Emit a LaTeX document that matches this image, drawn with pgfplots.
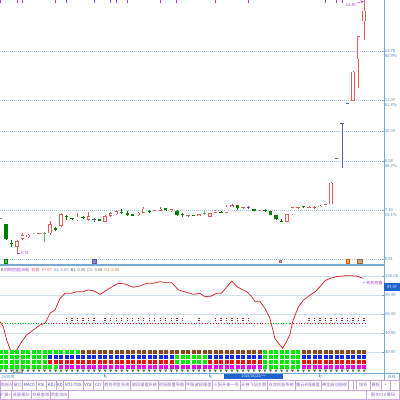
\documentclass[border=0pt]{standalone}
\usepackage{fontspec}
\setmainfont{Noto Sans CJK SC}
\usepackage{pgfplots}
\usepackage{pgfplotstable}
\pgfplotsset{compat=1.18}

\definecolor{cred}{RGB}{226,92,92}
\definecolor{cgreen}{RGB}{0,128,0}
\definecolor{clgreen}{RGB}{100,180,100}
\definecolor{cblue}{RGB}{90,90,175}
\definecolor{gridb}{RGB}{165,198,225}
\definecolor{gridlt}{RGB}{205,225,240}
\definecolor{axb}{RGB}{120,170,210}
\definecolor{lblb}{RGB}{80,140,195}
\definecolor{purp}{RGB}{170,60,220}
\definecolor{sqgreen}{RGB}{0,235,0}
\definecolor{sqbrown}{RGB}{140,70,30}
\definecolor{sqblue}{RGB}{20,40,230}
\definecolor{sqred}{RGB}{230,20,20}
\definecolor{sqmag}{RGB}{240,0,240}
\definecolor{dkred}{RGB}{150,40,40}
\definecolor{linered}{RGB}{210,40,40}
\definecolor{tabp}{RGB}{205,165,225}
\definecolor{tabt}{RGB}{140,100,200}
\definecolor{tabd}{RGB}{70,70,190}
\definecolor{boxblue}{RGB}{30,100,205}
\definecolor{tmark}{RGB}{70,110,70}

\newcommand{\tf}{\fontsize{4.2}{5.4}\selectfont}
\newcommand{\smf}{\fontsize{4}{4.6}\selectfont}

% ---- candles: i, body low, body high, low, high ----
\pgfplotstableread{
i bl bh l h
-1 7.12 7.18 7.12 7.18
2 6.22 6.41 6.01 6.45
3 6.49 6.60 6.45 6.69
4 6.54 6.62 6.52 6.64
5 6.61 6.66 6.60 6.67
6 6.64 6.68 6.63 6.69
8 6.67 6.98 6.61 7.09
10 6.93 7.32 6.89 7.36
13 7.11 7.23 7.08 7.36
15 7.13 7.25 7.09 7.40
18 7.06 7.25 7.04 7.27
19 7.25 7.34 7.23 7.40
20 7.31 7.41 7.28 7.45
24 7.27 7.36 7.26 7.38
25 7.36 7.50 7.34 7.56
27 7.41 7.45 7.40 7.46
28 7.43 7.50 7.41 7.54
30 7.41 7.48 7.40 7.49
33 7.265 7.285 7.21 7.285
35 7.25 7.32 7.24 7.33
37 7.23 7.34 7.22 7.35
38 7.36 7.43 7.35 7.44
40 7.36 7.56 7.35 7.61
41 7.56 7.62 7.54 7.64
43 7.51 7.54 7.50 7.55
46 7.43 7.49 7.42 7.50
51 7.06 7.32 7.05 7.33
52 7.31 7.54 7.30 7.55
53 7.51 7.54 7.50 7.56
55 7.54 7.56 7.53 7.57
56 7.53 7.56 7.49 7.57
57 7.55 7.60 7.54 7.61
58 7.58 7.64 7.57 7.65
59 7.65 8.37 7.64 8.38
63 11.11 12.09 11.10 12.10
64 12.50 13.28 11.55 13.28
65 13.78 14.13 13.15 14.49
}\up
\pgfplotstableread{
i bl bh l h
0 6.47 6.97 6.45 6.99
1 6.30 6.35 6.21 6.45
9 6.77 6.86 6.76 6.89
12 7.14 7.19 7.13 7.20
14 7.17 7.23 7.16 7.25
17 7.08 7.14 7.07 7.15
22 7.28 7.36 7.25 7.43
23 7.25 7.31 7.24 7.32
29 7.44 7.52 7.43 7.53
31 7.27 7.43 7.26 7.44
34 7.25 7.28 7.24 7.29
42 7.51 7.61 7.45 7.63
45 7.42 7.49 7.41 7.50
48 7.28 7.42 7.27 7.43
49 7.14 7.28 7.13 7.29
54 7.54 7.59 7.53 7.60
}\down
% doji: i, price, low, high
\pgfplotstableread{
i p l h
11 7.23 7.12 7.28
21 7.39 7.32 7.50
26 7.41 7.36 7.45
32 7.31 7.23 7.34
39 7.39 7.35 7.42
47 7.43 7.39 7.49
50 7.09 7.04 7.14
}\dojig
\pgfplotstableread{
i p l h
7 6.68 6.39 6.72
36 7.34 7.28 7.43
}\dojil
\pgfplotstableread{
i p l h
16 7.14 7.06 7.18
44 7.53 7.48 7.60
60 9.19 9.17 9.21
61 10.36 8.86 10.36
62 11.03 11.03 11.03
}\dojib

\pgfplotstableread{
i r1 r2 r3 r4
-1 g g g g
0 g g g g
1 g g g g
2 g g g g
3 g g g g
4 g g g g
5 g g g g
6 g g g g
7 g g g g
8 g b r g
9 g b r g
10 g b r m
11 g b r m
12 g b r m
13 g b r m
14 n b r m
15 n b r m
16 n b r m
17 n b r m
18 n b r m
19 n b r m
20 n b r m
21 n b r m
22 n b r m
23 n b r m
24 n b r m
25 n b r m
26 n b r m
27 n b r m
28 n b r m
29 n b r m
30 n b r m
31 n g g m
32 n g g m
33 n g g m
34 n g g m
35 n g g m
36 n g g m
37 n b r m
38 n b r m
39 n b r m
40 n b r m
41 n b r m
42 n b r m
43 n b r m
44 n b r m
45 n b r m
46 n b r m
47 g g g g
48 g g g g
49 g g g g
50 g g g g
51 g g g g
52 g g g g
53 g g g g
54 n b r m
55 n b r m
56 n b r m
57 n b r m
58 n b r m
59 n b r m
60 n b r m
61 n b r m
62 n b r m
63 n b r m
64 n b r m
65 n b r m
}\sq

\pgfplotsset{
  wick/.style={draw=none, mark=none, error bars/.cd, y dir=plus, y explicit, error mark=none,
     error bar style={#1, line width=0.55pt, solid}},
  body/.style 2 args={draw=none, mark=none, error bars/.cd, y dir=plus, y explicit, error mark=none,
     error bar style={#1, line width=#2, solid}},
}

\begin{document}
\begin{tikzpicture}[x=1pt,y=1pt]
\useasboundingbox (0,0) rectangle (400,400);
\clip (0,0) rectangle (400,400);
\fill[white] (0,0) rectangle (400,400);

% ---------------- price panel ----------------
\begin{axis}[at={(0pt,135pt)}, anchor=south west, width=384pt, height=265pt, scale only axis,
  xmin=-1.089, xmax=68.6, ymin=5.609, ymax=14.489,
  axis x line=none, axis y line*=right,
  y axis line style={axb, line width=0.6pt},
  ytick={5.81,7.452,9.094,10.099,11.138,12.78},
  yticklabels={5.81,{7.30\\19.1\%},{8.58\\38.2\%},10.03,{11.07\\61.8\%},{12.78\\80.9\%}},
  yticklabel style={font=\tf, text=lblb, align=left, anchor=north west, yshift=2.6pt, inner sep=0.6pt},
  ymajorgrids, major grid style={gridb, dash pattern=on 1pt off 1pt, line width=0.5pt},
  major tick length=2pt, tick style={axb},
]
% wicks
\addplot[wick=cred] table[x=i, y=l, y error plus expr=\thisrow{h}-\thisrow{l}] {\up};
\addplot[wick=cgreen] table[x=i, y=l, y error plus expr=\thisrow{h}-\thisrow{l}] {\down};
\addplot[wick=cgreen] table[x=i, y=l, y error plus expr=\thisrow{h}-\thisrow{l}] {\dojig};
\addplot[wick=clgreen] table[x=i, y=l, y error plus expr=\thisrow{h}-\thisrow{l}] {\dojil};
\addplot[wick=cblue] table[x=i, y=l, y error plus expr=\thisrow{h}-\thisrow{l}] {\dojib};
% bodies
\addplot[body={cred}{3.4pt}] table[x=i, y=bl, y error plus expr=\thisrow{bh}-\thisrow{bl}] {\up};
\addplot[body={white}{2.3pt}] table[x=i, y expr=\thisrow{bl}+0.019, y error plus expr={max(\thisrow{bh}-\thisrow{bl}-0.038,0)}] {\up};
\addplot[body={cgreen}{3.4pt}] table[x=i, y=bl, y error plus expr=\thisrow{bh}-\thisrow{bl}] {\down};
\addplot[only marks, mark=-, mark size=1.75pt, cgreen, mark options={line width=0.6pt}] table[x=i, y=p] {\dojig};
\addplot[only marks, mark=-, mark size=1.75pt, clgreen, mark options={line width=0.6pt}] table[x=i, y=p] {\dojil};
\addplot[only marks, mark=-, mark size=1.75pt, cblue, mark options={line width=0.6pt}] table[x=i, y=p] {\dojib};
% purple markers along the top
\addplot[only marks, mark=|, mark size=1.4pt, purp, mark options={line width=0.7pt}] coordinates {
 (-1,14.44) (2,14.44) (3,14.44) (9,14.44) (11,14.44) (16,14.44) (19,14.44) (20,14.44)
 (22,14.44) (28,14.44) (31,14.44) (38,14.44) (44,14.44) (58,14.44) (60,14.44) (61,14.44)};
% event icons at the bottom of the price panel
\addplot[only marks, mark=square*, mark size=1.8pt, draw=cgreen, fill=clgreen] coordinates {(-0.05,5.74)};
\addplot[only marks, mark=square*, mark size=1.8pt, draw=cblue, fill=cblue!70] coordinates {(16,5.74)};
\addplot[only marks, mark=square*, mark size=1.2pt, draw=cred, fill=cred!60] coordinates {(49.8,5.74)};
\addplot[only marks, mark=square*, mark size=1.8pt, draw=orange!80!black, fill=orange!70] coordinates {(62,5.74)};
\addplot[only marks, mark=square*, mark size=2.2pt, draw=brown!80!black, fill=brown!70] coordinates {(64.2,5.74)};
% min / max labels
\draw[purp, line width=0.4pt] (axis cs:2,6.01) -- (axis cs:2.6,6.01)
  node[right, inner sep=0.3pt, font=\smf, text=purp] {5.78};
\node[font=\smf, text=purp, anchor=east, inner sep=0.3pt] at (axis cs:63.6,14.33) {14.85};
\draw[purp, line width=0.4pt, -stealth] (axis cs:63.6,14.38) -- (axis cs:64.9,14.45);
\end{axis}

% ---------------- indicator panel ----------------
\begin{axis}[at={(0pt,27pt)}, anchor=south west, width=384pt, height=108pt, scale only axis,
  xmin=-1.089, xmax=68.6, ymin=-2.105, ymax=111.58,
  axis x line=none, axis y line*=right,
  y axis line style={axb, line width=0.6pt},
  ytick={20,40,60,80,100}, yticklabels={20.00,40.00,60.00,80.00,100.00},
  yticklabel style={font=\tf, text=lblb, inner sep=0.6pt, xshift=0.5pt},
  ymajorgrids, major grid style={gridlt, line width=0.45pt},
  major tick length=2pt, tick style={axb},
]
% level-50 rows
\addplot[sqgreen!80!black, line width=1pt, dash pattern=on 1pt off 1.6pt] coordinates {(-1.2,50.5) (7.5,50.5)};
\addplot[sqgreen!80!black, line width=1pt, dash pattern=on 1pt off 1.6pt] coordinates {(47.5,50.5) (51.5,50.5)};
\addplot[sqred, line width=1pt, dash pattern=on 1pt off 1.75pt] coordinates {(7.6,50.5) (47.4,50.5)};
\addplot[sqred, line width=1pt, dash pattern=on 1pt off 1.75pt] coordinates {(51.6,50.5) (65.4,50.5)};
\addplot[only marks, mark=|, mark size=2pt, dkred, mark options={line width=1.4pt, dash pattern=on 1.2pt off 0.8pt}] coordinates {
 (11,54) (12,54) (13,54) (14,54) (15,54) (16,54)
 (18,54) (19,54) (20,54) (21,54) (22,54) (23,54) (24,54) (25,54) (26,54) (27,54) (28,54) (29,54) (30,54) (31,54) (32,54)
 (35,54)
 (38,54) (39,54) (40,54) (41,54) (42,54) (43,54) (44,54)
 (55,54) (56,54) (57,54) (58,54) (59,54) (60,54) (61,54) (62,54) (63,54) (64,54) (65,54)};
% signal rows
\pgfplotsset{sqrow/.style={scatter, only marks, mark=square*, mark size=1.5pt,
  point meta=explicit symbolic,
  scatter/classes={g={mark=square*, draw=sqgreen, fill=sqgreen},
                   n={mark=square*, draw=sqbrown, fill=sqbrown},
                   b={mark=square*, draw=sqblue, fill=sqblue},
                   r={mark=square*, draw=sqred, fill=sqred},
                   m={mark=square*, draw=sqmag, fill=sqmag}}}}
\addplot[sqrow] table[x=i, y expr=20, meta=r1] {\sq};
\addplot[sqrow] table[x=i, y expr=14.7, meta=r2] {\sq};
\addplot[sqrow] table[x=i, y expr=9.6, meta=r3] {\sq};
\addplot[sqrow] table[x=i, y expr=4.3, meta=r4] {\sq};
\addplot[only marks, mark=triangle*, mark size=1.3pt, tmark, mark options={rotate=180}] table[x=i, y expr=0.6] {\sq};
\draw[gray!70, fill=gray!30, line width=0.5pt] (axis cs:1.3,-1.5) rectangle (axis cs:2.9,15.5);
% main line
\addplot[color=linered, line width=0.75pt] coordinates {
 (-1.09,51.9) (-0.48,46.6) (0.12,32.6) (1.03,18.6) (1.94,22.1) (2.84,30.9) (3.75,37.9)
 (4.96,43.2) (6.17,48.4) (7.08,50.2) (7.99,60.7) (8.89,64.2) (9.80,76.5) (10.7,81.8)
 (11.9,81.8) (12.8,83.5) (14.0,83.5) (14.9,85.3) (15.8,84.6) (17.1,80.7) (18.3,85.3)
 (19.5,89.5) (20.4,92.3) (21.6,91.6) (23.1,88.1) (24.3,89.5) (25.5,92.3) (26.7,92.3)
 (27.9,94.0) (29.2,93.0) (30.1,93.0) (31.3,85.3) (32.8,82.8) (34.0,80.7) (35.2,81.8)
 (36.1,78.2) (37.3,78.9) (38.2,81.8) (39.1,81.8) (40.0,88.1) (41.0,94.7) (41.9,88.8)
 (42.8,86.0) (43.7,83.5) (44.6,78.2) (45.2,73.0) (46.1,73.0) (47.0,66.0) (47.9,55.4)
 (48.8,34.4) (49.7,27.4) (50.2,23.9) (50.9,30.9) (51.5,37.9) (52.1,53.7) (53.1,67.7)
 (54.0,74.7) (55.2,80.0) (56.1,83.5) (57.0,88.8) (57.9,95.1) (58.8,97.5) (60.0,99.3)
 (61.8,100.4) (63.6,100.0) (64.8,97.5)};
\end{axis}

% ---------------- frame lines ----------------
\draw[axb, line width=0.6pt] (384,19.5) -- (384,400);
\draw[axb, line width=1.1pt] (0,135) -- (384,135);
\draw[axb, line width=0.6pt] (0,27) -- (400,27);

% indicator title row
\fill[gray!60] (0.5,128.5) rectangle (3,131.5);
\node[font=\smf, anchor=west, inner sep=0] at (4,130) {\textcolor{purp}{机构控盘(K线)}\hspace{2pt}\textcolor{cred}{机构: 97.97}\hspace{2pt}\textcolor{lblb}{A1: 0.00}\hspace{2pt}\textcolor{gray!70!black}{B1: 0.00}\hspace{2pt}\textcolor{gray!70!black}{C1: 0.00}\hspace{2pt}\textcolor{orange!90!black}{D1: 0.00}};
\node[font=\smf, text=purp, anchor=east, inner sep=0.3pt] at (383,116.8) {←机构控盘};
\fill[boxblue] (384.3,108.7) rectangle (400,117.3);
\node[font=\smf, text=white, inner sep=0] at (392,113) {97.97};

% date row
\node[font=\smf, text=lblb, anchor=west, inner sep=0] at (1.5,23.3) {2025年};
\draw[axb, line width=0.4pt] (104,27) -- (104,23);
\node[font=\smf, text=lblb, anchor=west, inner sep=0.3pt] at (104.3,23.3) {5};
\draw[axb, line width=0.4pt] (209,27) -- (209,23);
\node[font=\smf, text=lblb, anchor=west, inner sep=0.3pt] at (209.3,23.3) {6};
\draw[axb, line width=0.4pt] (319,27) -- (319,23);
\node[font=\smf, text=lblb, anchor=west, inner sep=0.3pt] at (319.3,23.3) {7};
\fill[boxblue] (224,20.5) rectangle (283,26.2);
\node[font=\fontsize{3.6}{4}\selectfont, text=white, inner sep=0] at (253.5,23.3) {2025/06/23/一};
\draw[axb, line width=0.4pt, fill=white] (384,20) rectangle (399.5,27);
\node[font=\smf, text=lblb, inner sep=0] at (391.7,23.5) {日线};

% tab bars
\fill[white] (0,0) rectangle (400,19.5);
\foreach \a/\b/\t/\c in {0/12.7/指标A/tabt, 12.7/22.7/窗口/tabt, 22.7/36/MACD/tabd, 36/46.7/RSI/tabd,
   46.7/56.7/KDJ/tabd, 56.7/63.3/KD/tabd, 63.3/83.3/VOL-TDX/tabd, 83.3/93.3/VOL/tabd, 93.3/103.3/CCI/tabd,
   103.3/130.7/趋势资金系统/tabt, 130.7/158.3/波段操盘系统/tabt, 158.3/185/抓妖股量导航/tabt,
   185/212.7/牛股波段操盘/tabt, 212.7/240/三阳开泰一号/tabt, 240/267.3/天神飞仙主图/tabt,
   267.3/295/双龙抓涨系统/tabt, 295/321/魔云K线操盘/tabt, 321/348.3/神龙启动指标/tabt,
   348.3/353.3/{}/tabt, 353.3/356.7/{}/tabt, 356.7/370/指标/tabt, 370/381.7/模板/tabt,
   381.7/390/+/tabt, 390/399.6/-/tabt} {
  \draw[tabp, line width=0.45pt] (\a,10) rectangle (\b,19.5);
  \node[font=\fontsize{4.2}{5}\selectfont, text=\c, inner sep=0] at ({(\a+\b)/2},14.7) {\t};
}
\foreach \a/\b/\t in {0/11/扩展+, 11/31.7/关联报价, 31.7/50/交易查询, 50/68.3/资金流向, 68.3/366.7/{}, 366.7/399.6/图文F10\,筹码} {
  \draw[tabp, line width=0.45pt] (\a,0.4) rectangle (\b,10);
  \node[font=\fontsize{4.2}{5}\selectfont, text=tabt, inner sep=0] at ({(\a+\b)/2},5.2) {\t};
}
\end{tikzpicture}
\end{document}
